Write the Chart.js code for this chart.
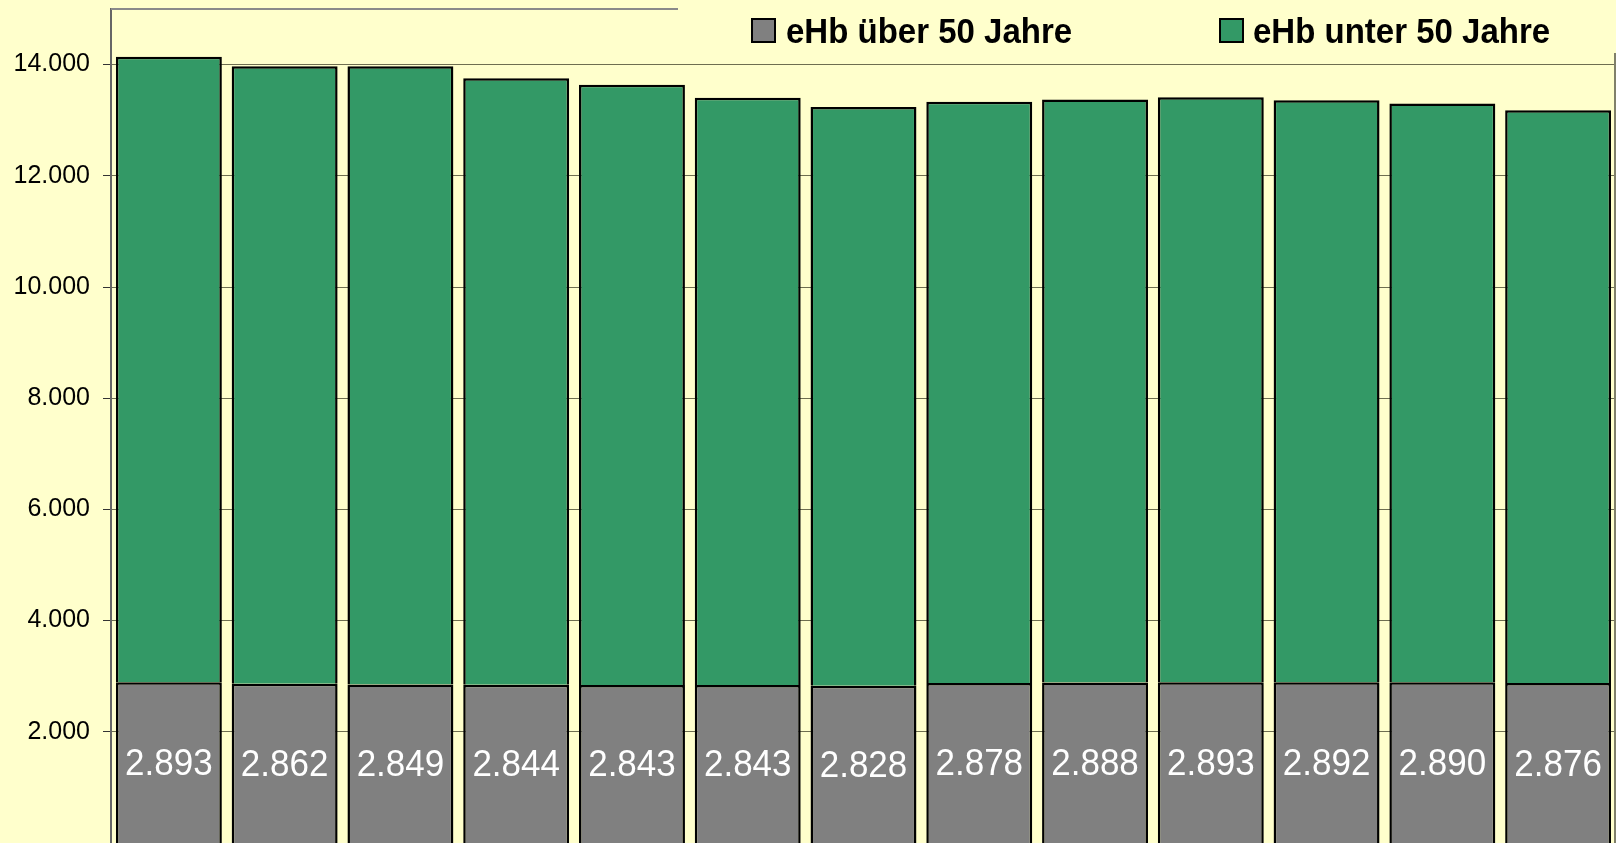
<!DOCTYPE html>
<html lang="de">
<head>
    <meta charset="UTF-8">
    <title>eHb</title>
    <script src="https://cdn.jsdelivr.net/npm/chart.js"></script>
    <style>
        html, body { margin: 0; padding: 0; background: #ffffcc; overflow: hidden; }
        .wrap { width: 1616px; height: 843px; position: relative; }
    </style>
</head>
<body>
    <div class="wrap">
        <canvas id="myChart"></canvas>
    </div>
<script>
    // Kategorien (Achsenbeschriftung im Bild abgeschnitten)
    var categories = ['1', '2', '3', '4', '5', '6', '7', '8', '9', '10', '11', '12', '13'];
    // eHb über 50 Jahre (Werte aus den Beschriftungen)
    var ueber50 = [2893, 2862, 2849, 2844, 2843, 2843, 2828, 2878, 2888, 2893, 2892, 2890, 2876];
    // eHb unter 50 Jahre (aus Balkenhöhe geschätzt)
    var unter50 = [11247, 11108, 11121, 10911, 10793, 10559, 10409, 10452, 10484, 10520, 10467, 10410, 10304];
    var yTicks = [2000, 4000, 6000, 8000, 10000, 12000, 14000];

    var FONT = "'Liberation Sans', Arial, sans-serif";

    function fmt(v){
        var s = String(Math.round(v));
        return s.replace(/\B(?=(\d{3})+(?!\d))/g, '.');
    }

    var bgPlugin = {
        id: 'bg',
        beforeDraw: function(chart){
            var ctx = chart.ctx;
            ctx.save();
            ctx.fillStyle = '#ffffcc';
            ctx.fillRect(0, 0, chart.width, chart.height);
            ctx.restore();
        }
    };

    var labelPlugin = {
        id: 'valueLabels',
        afterDatasetsDraw: function(chart){
            var ctx = chart.ctx;
            var meta = chart.getDatasetMeta(0);
            ctx.save();
            ctx.fillStyle = '#ffffff';
            ctx.font = '35px ' + FONT;
            ctx.textAlign = 'center';
            ctx.textBaseline = 'alphabetic';
            meta.data.forEach(function(bar, i){
                var p = bar.getProps(['x', 'y', 'base'], true);
                var mid = (p.y + p.base) / 2;
                // leicht gestreckte Schrift wie im Original
                ctx.save();
                ctx.translate(p.x, mid + 12.5);
                ctx.scale(1, 1.06);
                ctx.fillText(fmt(ueber50[i]), 0, 0);
                ctx.restore();
            });
            ctx.restore();
        }
    };

    // Rahmen oben/rechts + Legende, die den Rahmen oben rechts überdeckt
    var frameLegend = {
        id: 'frameLegend',
        afterDraw: function(chart){
            var ctx = chart.ctx;
            var a = chart.chartArea;
            ctx.save();
            ctx.strokeStyle = '#8a8a8a';
            ctx.lineWidth = 2;
            ctx.beginPath();
            ctx.moveTo(a.left, a.top);
            ctx.lineTo(a.right, a.top);
            ctx.stroke();
            ctx.strokeStyle = '#80806a';
            ctx.beginPath();
            ctx.moveTo(a.right - 1, a.top);
            ctx.lineTo(a.right - 1, a.bottom);
            ctx.stroke();

            ctx.fillStyle = '#ffffcc';
            ctx.fillRect(678, 0, chart.width - 678, 53);

            var items = [
                { x: 751, tx: 786 },
                { x: 1219, tx: 1253 }
            ];
            ctx.font = 'bold 33px ' + FONT;
            ctx.textBaseline = 'alphabetic';
            ctx.textAlign = 'left';
            chart.data.datasets.forEach(function(ds, i){
                var it = items[i];
                ctx.fillStyle = ds.backgroundColor;
                ctx.fillRect(it.x, 18, 25, 25);
                ctx.strokeStyle = '#000';
                ctx.lineWidth = 2;
                ctx.strokeRect(it.x + 1, 19, 23, 23);
                ctx.fillStyle = '#000';
                ctx.save();
                ctx.translate(it.tx, 43);
                ctx.scale(1, 1.06);
                ctx.fillText(ds.label, 0, 0);
                ctx.restore();
            });
            ctx.restore();
        }
    };

    new Chart(document.querySelector('#myChart'), {
        type: 'bar',
        data: {
            labels: categories,
            datasets: [
                {
                    label: 'eHb über 50 Jahre',
                    data: ueber50,
                    backgroundColor: '#808080',
                    borderColor: '#000000',
                    borderWidth: 2.5,
                    categoryPercentage: 1,
                    barPercentage: 0.915
                },
                {
                    label: 'eHb unter 50 Jahre',
                    data: unter50,
                    backgroundColor: '#339966',
                    borderColor: '#000000',
                    borderWidth: 2.5,
                    categoryPercentage: 1,
                    barPercentage: 0.915
                }
            ]
        },
        options: {
            responsive: true,
            maintainAspectRatio: false,
            animation: false,
            layout: { padding: { top: 9, left: 0, right: 0, bottom: 0 } },
            plugins: {
                legend: { display: false },
                tooltip: { enabled: false }
            },
            scales: {
                x: {
                    stacked: true,
                    display: false
                },
                y: {
                    stacked: true,
                    min: 0,
                    max: 15000,
                    afterBuildTicks: function(scale){
                        scale.ticks = yTicks.map(function(v){ return { value: v }; });
                    },
                    afterFit: function(scale){
                        scale.width = 111;
                        scale.paddingTop = 0;
                        scale.paddingBottom = 0;
                    },
                    ticks: {
                        color: '#000',
                        padding: 13,
                        font: { family: FONT, size: 25 },
                        callback: function(v){ return fmt(v); }
                    },
                    grid: {
                        color: '#6e6e50',
                        lineWidth: 1,
                        tickLength: 8,
                        tickColor: '#333333'
                    },
                    border: { color: '#666666', width: 2 }
                }
            }
        },
        plugins: [bgPlugin, labelPlugin, frameLegend]
    });
</script>
</body>
</html>
